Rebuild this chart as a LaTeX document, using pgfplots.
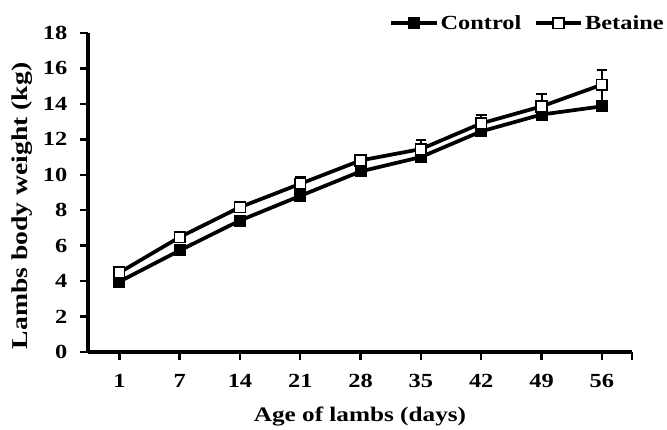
\documentclass[border=0pt]{standalone}
\usepackage{fontspec}
\setmainfont{Liberation Serif}[FakeStretch=1.22]
\usepackage{pgfplots}
\usepackage{pgfplotstable}
\pgfplotsset{compat=1.18}

% body weight of lambs (kg), mean and upper SE
\pgfplotstableread{
idx day ctrl ctrlerr bet beterr
0 1  3.97 0.10 4.48 0.12
1 7  5.73 0.15 6.48 0.30
2 14 7.42 0.20 8.17 0.30
3 21 8.81 0.25 9.49 0.40
4 28 10.19 0.20 10.81 0.25
5 35 11.00 0.30 11.45 0.50
6 42 12.45 0.30 12.90 0.45
7 49 13.40 0.40 13.86 0.70
8 56 13.86 0.95 15.08 0.82
}\weights

\begin{document}
\begin{tikzpicture}
\path[use as bounding box] (-66pt,-57.75pt) rectangle (434.25pt,264pt);
\begin{axis}[
    scale only axis,
    width=408pt, height=239.25pt,
    xmin=-0.52, xmax=8.5,
    ymin=0, ymax=18,
    xtick={0,...,8},
    xticklabels={1,7,14,21,28,35,42,49,56},
    extra x ticks={8.5},
    extra x tick labels={},
    ytick={0,2,...,18},
    axis x line*=bottom,
    axis y line*=left,
    xtick pos=bottom,
    ytick pos=left,
    axis line style={line width=2.4pt, -},
    tick align=outside,
    major tick length=6pt,
    xtick style={line width=1.8pt, black},
    ytick style={line width=1.8pt, black},
    /pgf/number format/assume math mode=true,
    ticklabel style={font=\fontsize{15}{17}\selectfont\bfseries},
    yticklabel style={xshift=-6pt},
    xticklabel style={yshift=-7pt},
    xlabel={Age of lambs (days)},
    ylabel={Lambs body weight (kg)},
    xlabel style={font=\fontsize{15.5}{18}\selectfont\bfseries,
        at={(rel axis cs:0.5,0)}, anchor=center, yshift=-48pt},
    ylabel style={font=\fontsize{17}{20}\selectfont\bfseries,
        at={(rel axis cs:0,0.458)}, anchor=center, yshift=49.5pt},
    legend columns=2,
    legend style={at={(1.0625,1.031)}, anchor=east, draw=none, fill=none,
        inner sep=0pt, nodes={inner sep=1.5pt},
        font=\fontsize{15}{18}\selectfont\bfseries,
        /tikz/every even column/.append style={column sep=8pt}},
    legend image code/.code={
        \draw[#1, mark repeat=2, mark phase=2]
            plot coordinates {(0pt,0pt) (17pt,0pt) (34pt,0pt)};
    },
    error bars/error bar style={line width=1.5pt, solid, black},
    error bars/error mark options={rotate=90, mark size=4pt, line width=1.5pt, black},
    clip=false,
]
\addplot[black, line width=2.8pt, mark=square*, mark size=4pt,
    mark options={fill=black, draw=black, solid, line width=1pt},
    error bars/.cd, y dir=plus, y explicit]
    table[x=idx, y=ctrl, y error=ctrlerr] {\weights};
\addlegendentry{Control}
\addplot[black, line width=2.8pt, mark=square*, mark size=4pt,
    mark options={fill=white, draw=black, solid, line width=1.2pt},
    error bars/.cd, y dir=plus, y explicit]
    table[x=idx, y=bet, y error=beterr] {\weights};
\addlegendentry{Betaine}
\end{axis}
\end{tikzpicture}
\end{document}
